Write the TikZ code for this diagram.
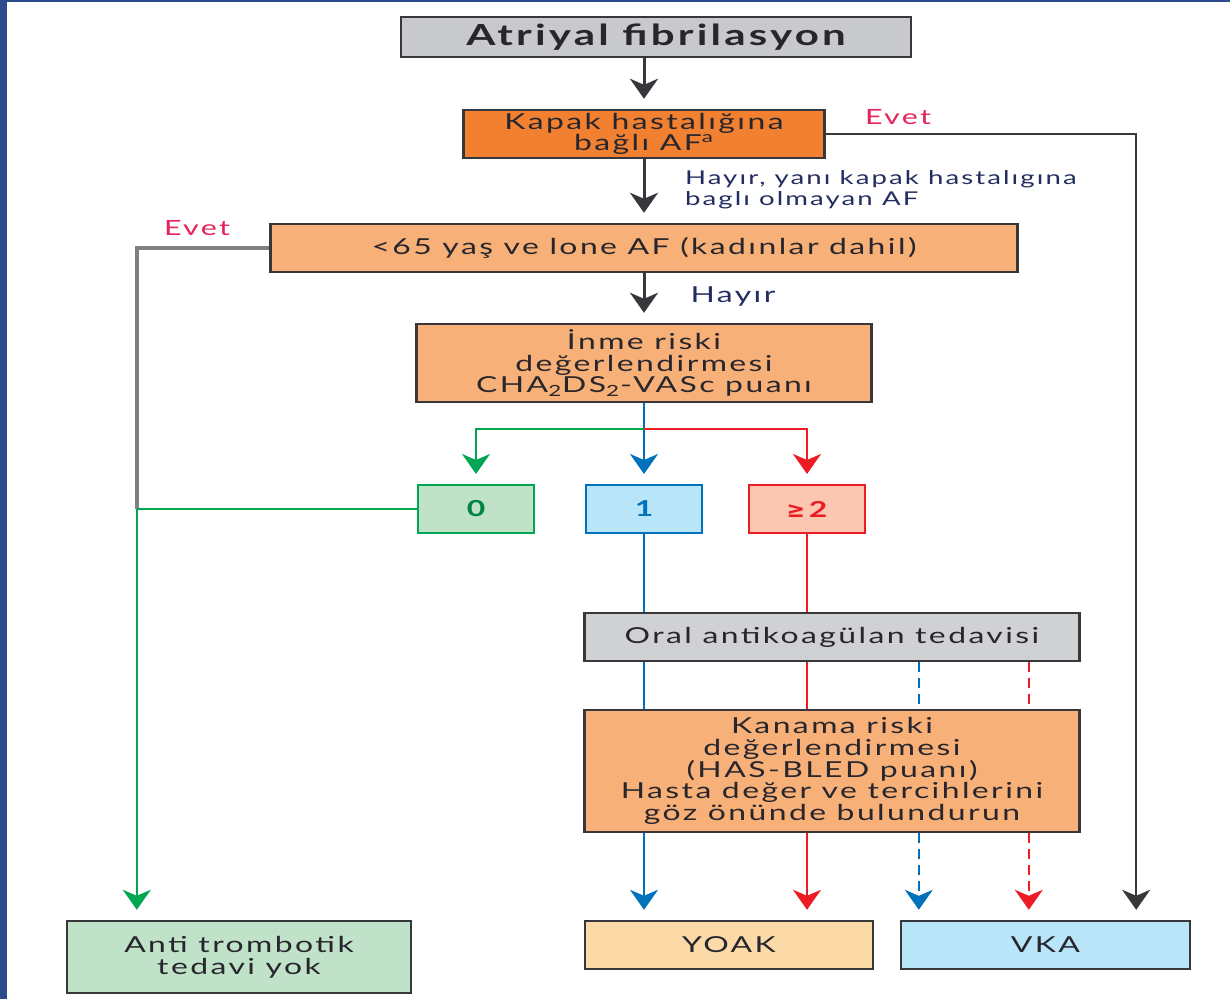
\documentclass[tikz,border=0pt]{standalone}
\usepackage{fontspec}
\setmainfont{Lato}[FakeStretch=1.45, LetterSpace=11]
\newfontfamily\symfont{DejaVu Sans}
\usetikzlibrary{arrows.meta, positioning}

\definecolor{boxline}{RGB}{55,55,60}
\definecolor{txt}{RGB}{40,38,45}
\definecolor{navy}{RGB}{35,45,95}
\definecolor{evetred}{RGB}{230,35,90}
\definecolor{greyfill}{RGB}{200,201,203}
\definecolor{orangedark}{RGB}{241,128,48}
\definecolor{orangelight}{RGB}{247,176,119}
\definecolor{peach}{RGB}{252,218,168}
\definecolor{greenfill}{RGB}{192,226,201}
\definecolor{greenline}{RGB}{0,166,81}
\definecolor{bluefill}{RGB}{185,229,249}
\definecolor{blueline}{RGB}{0,114,188}
\definecolor{redfill}{RGB}{251,199,177}
\definecolor{redline}{RGB}{237,28,36}
\definecolor{frameblue}{RGB}{45,74,140}

\begin{document}
\begin{tikzpicture}[
    x=0.5pt, y=-0.5pt,
    box/.style={draw=boxline, line width=1.2pt, align=center, inner sep=0pt,
                text=txt, font=\fontsize{11}{10.8}\selectfont},
    greybox/.style={box, fill=greyfill},
    darkbox/.style={box, fill=orangedark},
    lightbox/.style={box, fill=orangelight},
    score/.style={line width=1pt, minimum width=58pt, minimum height=24pt,
                  inner sep=0pt, font=\bfseries\fontsize{11}{12}\selectfont},
    lbl/.style={text=navy, align=left, font=\fontsize{9.5}{10.5}\selectfont},
    evet/.style={text=evetred, font=\fontsize{10.5}{12}\selectfont},
    tip/.style={-{Stealth[length=10pt, width=14pt, inset=3pt]}, shorten >=5pt},
    arr/.style={tip, line width=1.5pt, boxline},
    bl/.style={line width=1pt, blueline},
    rl/.style={line width=1pt, redline},
    gl/.style={line width=1pt, greenline},
    dashline/.style={dash pattern=on 5pt off 3pt}
]
\useasboundingbox (0,0) rectangle (1230,999);
\fill[white] (0,0) rectangle (1230,999);
\fill[frameblue] (0,0) rectangle (7,999);
\fill[frameblue] (0,0) rectangle (1230,2);

% ---- main column ----
\node[greybox, minimum width=255pt, minimum height=20pt,
      font=\bfseries\fontsize{14.5}{15}\selectfont] (atrial) at (656,37) {Atriyal fibrilasyon};
\node[darkbox, minimum width=180.5pt, minimum height=24pt] (kapak) at (644,134)
    {Kapak hastalığına\\bağlı AF\textsuperscript{a}};
\node[lightbox, minimum width=373.5pt, minimum height=24pt] (lone) at (644,248)
    {<65 yaş ve lone AF (kadınlar dahil)};
\node[lightbox, minimum width=227.5pt, minimum height=39pt] (inme) at (644,363)
    {İnme riski\\değerlendirmesi\\CHA\textsubscript{2}DS\textsubscript{2}-VASc puanı};

\draw[arr] (kapak.north |- atrial.south) -- (kapak.north);
\draw[arr] (kapak) -- (lone);
\draw[arr] (lone) -- (inme);

\node[lbl, anchor=west] (hayir1) at (678,190) {Hayır, yanı kapak hastalıgına\\baglı olmayan AF};
\node[lbl, font=\fontsize{11}{12}\selectfont] (hayir2) at (733,297) {Hayır};
\node[evet] (evet1) at (898,117) {Evet};
\node[evet] (evet2) at (197,228) {Evet};

% ---- CHA2DS2-VASc scores ----
\node[score, draw=greenline, fill=greenfill, text=greenline!80!black] (s0) at (476,509) {0};
\node[score, draw=blueline, fill=bluefill, text=blueline] (s1) at (644,509) {1};
\node[score, draw=redline, fill=redfill, text=redline] (s2) at (807,509) {{\symfont\bfseries ≥}\,2};

\coordinate (br) at ([yshift=-13pt]inme.south);
\draw[bl, tip] (inme.south) -- (s1.north);
\draw[gl, tip] (br) -| (s0.north);
\draw[rl, tip] (br) -| (s2.north);

% ---- treatment ----
\node[greybox, fill=greyfill!85!white, minimum width=247.5pt, minimum height=24pt] (oral) at (832,637)
    {Oral antikoagülan tedavisi};
\node[lightbox, minimum width=247.5pt, minimum height=61pt] (kanama) at (832,771)
    {Kanama riski\\değerlendirmesi\\(HAS-BLED puanı)\\Hasta değer ve tercihlerini\\göz önünde bulundurun};

\node[box, fill=peach, minimum width=144pt, minimum height=24pt] (yoak) at (729,945) {YOAK};
\node[box, fill=bluefill, minimum width=144.5pt, minimum height=24pt] (vka) at (1045.5,945) {VKA};
\node[box, fill=greenfill, minimum width=172pt, minimum height=36pt] (anti) at (239,957)
    {Anti trombotik\\tedavi yok};

\coordinate (vb) at ([xshift=9.5pt]vka.north west);
\coordinate (vr) at ([xshift=64.5pt]vka.north west);
\coordinate (vk) at ([xshift=-27.5pt]vka.north east);

\draw[bl] (s1.south) -- (s1.south |- oral.north);
\draw[rl] (s2.south) -- (s2.south |- oral.north);
\draw[bl] (oral.south -| s1) -- (kanama.north -| s1);
\draw[rl] (oral.south -| s2) -- (kanama.north -| s2);
\draw[bl, dashline] (oral.south -| vb) -- (kanama.north -| vb);
\draw[rl, dashline] (oral.south -| vr) -- (kanama.north -| vr);

\draw[bl, tip] (kanama.south -| s1) -- (yoak.north -| s1);
\draw[rl, tip] (kanama.south -| s2) -- (yoak.north -| s2);
\draw[bl, dashline, tip] (kanama.south -| vb) -- (vb);
\draw[rl, dashline, tip] (kanama.south -| vr) -- (vr);

% ---- Evet branches ----
\draw[arr, line width=1.2pt] (kapak.east) -| (vk);

\coordinate (gx) at ([xshift=35.5pt]anti.north west);
\coordinate (jn) at (gx |- s0.west);
\draw[line width=1.8pt, gray] (lone.west) -| (jn);
\draw[gl] (s0.west) -- (jn);
\draw[gl, tip] (jn) -- (gx);

\end{tikzpicture}
\end{document}
